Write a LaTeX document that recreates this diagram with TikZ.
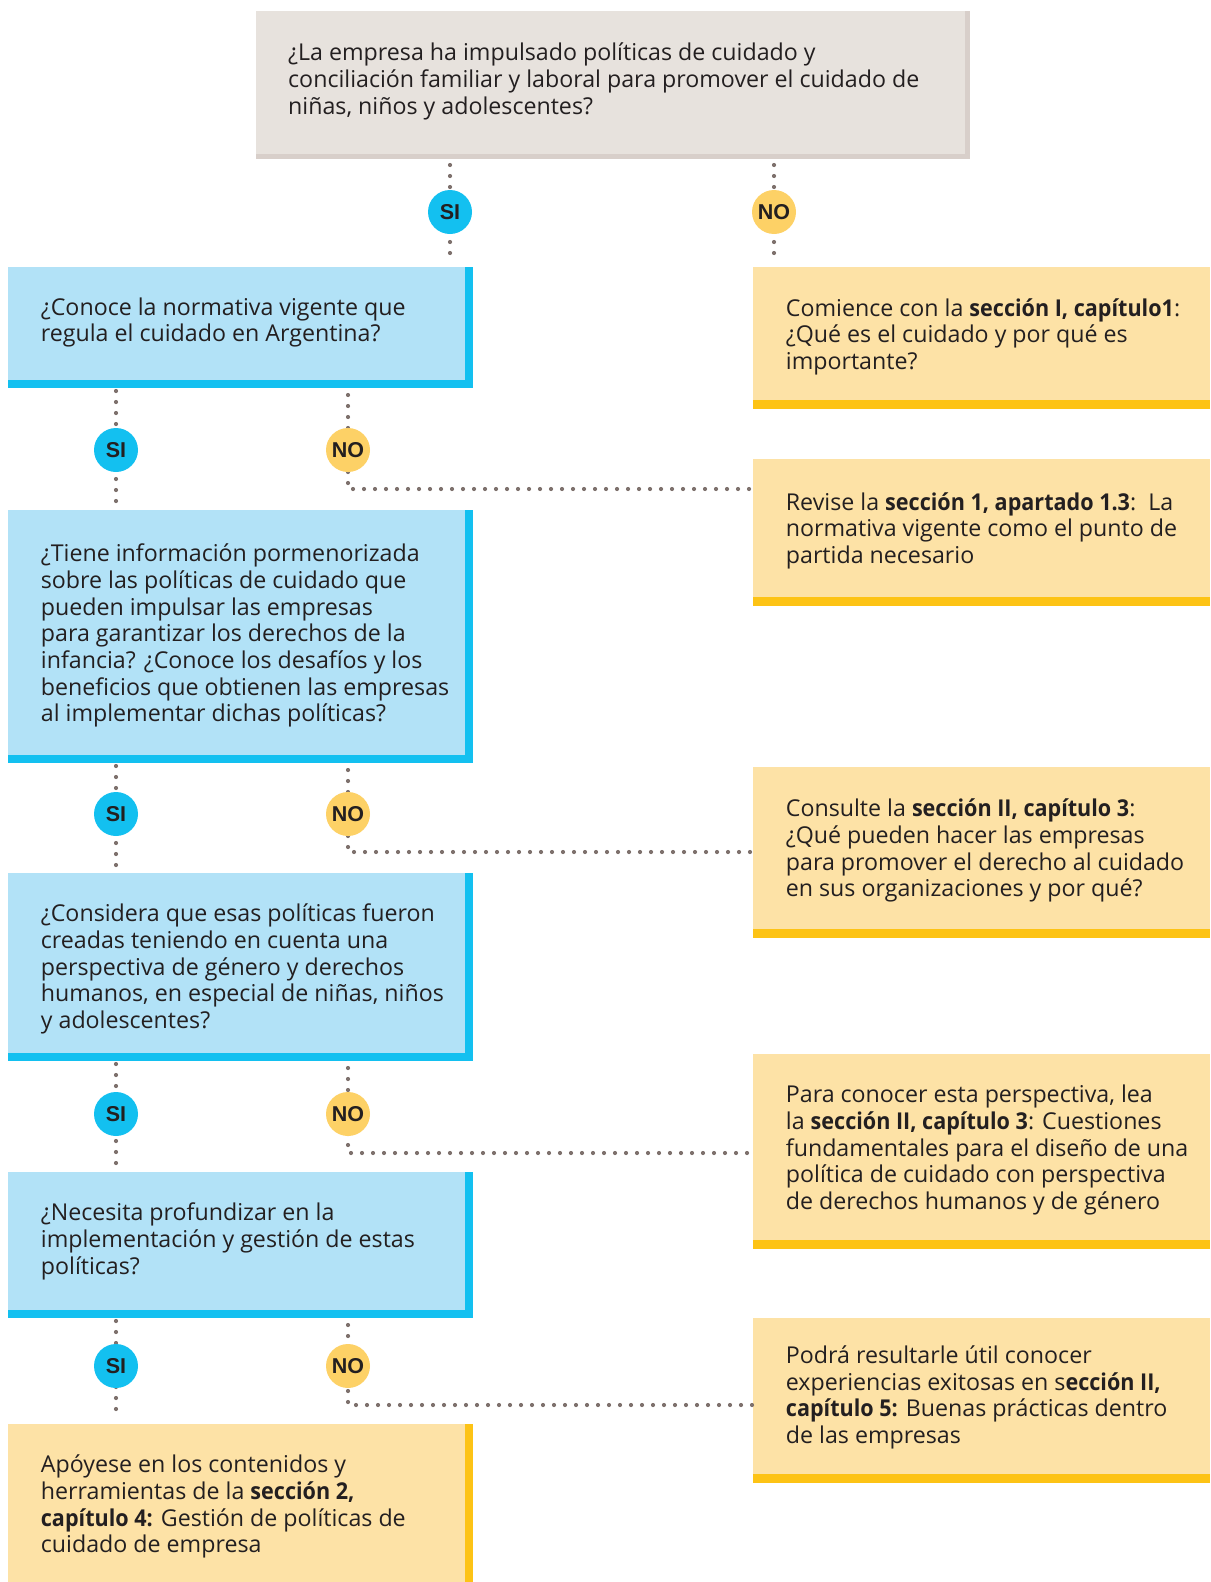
\documentclass[tikz,border=0pt]{standalone}
\usepackage{fontspec}
\setmainfont{Open Sans}[BoldFeatures={FakeStretch=0.93}]
\newfontfamily\lblfont{Liberation Sans}
\usetikzlibrary{calc}
\definecolor{grayF}{HTML}{E7E2DD}
\definecolor{grayS}{HTML}{D8CFCA}
\definecolor{blueF}{HTML}{B2E2F7}
\definecolor{blueB}{HTML}{13C0F0}
\definecolor{yelF}{HTML}{FDE2A6}
\definecolor{yelB}{HTML}{FDC315}
\definecolor{noC}{HTML}{FDD166}
\definecolor{dotC}{HTML}{7E716D}
\definecolor{txtC}{HTML}{231F20}
\begin{document}
\begin{tikzpicture}[x=1pt,y=-1pt,
  boxnode/.style={rectangle, anchor=north west, inner sep=0pt, outer sep=0pt},
  bluebox/.style={boxnode, fill=blueB},
  yelbox/.style={boxnode, fill=yelB},
  graybox/.style={boxnode, fill=grayS},
  txt/.style={anchor=base west, align=left, inner sep=0pt, text=txtC, font=\fontsize{23.2}{26.7}\selectfont},
  answer/.style={circle, minimum size=44pt, inner sep=0pt, text=txtC, font=\lblfont\bfseries\fontsize{21.5}{21.5}\selectfont},
  sinode/.style={answer, fill=blueB},
  nonode/.style={answer, fill=noC},
  dotline/.style={draw=dotC, line width=4.2pt, line cap=round, dash pattern=on 0pt off 11pt}
]
\useasboundingbox (0,0) rectangle (1210,1582);

% ---------- top question ----------
\node[graybox, minimum width=714pt, minimum height=148pt] (top) at (256,11) {};
\fill[grayF] (top.north west) rectangle ([shift={(-5,-5)}]top.south east);
% (text nodes are anchored at the baseline of their last line)
\node[txt] (ttop) at (288,114) {¿La empresa ha impulsado políticas de cuidado y\\conciliación familiar y laboral para promover el cuidado de\\niñas, niños y adolescentes?};

% ---------- blue question boxes ----------
\node[bluebox, minimum width=465pt, minimum height=121pt] (b1) at (8,267) {};
\fill[blueF] (b1.north west) rectangle ([shift={(-8,-8)}]b1.south east);
\node[txt] (tb1) at (40.7,341.7) {¿Conoce la normativa vigente que\\regula el cuidado en Argentina?};

\node[bluebox, minimum width=465pt, minimum height=253pt] (b2) at (8,510) {};
\fill[blueF] (b2.north west) rectangle ([shift={(-8,-8)}]b2.south east);
\node[txt] (tb2) at (40.7,721.9) {¿Tiene información pormenorizada\\sobre las políticas de cuidado que\\pueden impulsar las empresas\\para garantizar los derechos de la\\infancia? ¿Conoce los desafíos y los\\beneficios que obtienen las empresas\\al implementar dichas políticas?};

\node[bluebox, minimum width=465pt, minimum height=188pt] (b3) at (8,873) {};
\fill[blueF] (b3.north west) rectangle ([shift={(-8,-8)}]b3.south east);
\node[txt] (tb3) at (40.7,1028.5) {¿Considera que esas políticas fueron\\creadas teniendo en cuenta una\\perspectiva de género y derechos\\humanos, en especial de niñas, niños\\y adolescentes?};

\node[bluebox, minimum width=465pt, minimum height=146pt] (b4) at (8,1172) {};
\fill[blueF] (b4.north west) rectangle ([shift={(-8,-8)}]b4.south east);
\node[txt] (tb4) at (40.7,1274.1) {¿Necesita profundizar en la\\implementación y gestión de estas\\políticas?};

% ---------- final yellow box ----------
\node[yelbox, minimum width=465pt, minimum height=158pt] (fin) at (8,1424) {};
\fill[yelF] (fin.north west) rectangle ([shift={(-8,0)}]fin.south east);
\node[txt] (tfin) at (40.7,1552.8) {Apóyese en los contenidos y\\herramientas de la \textbf{sección 2,}\\\textbf{capítulo 4:} Gestión de políticas de\\cuidado de empresa};

% ---------- yellow answer boxes ----------
\node[yelbox, minimum width=457pt, minimum height=142pt] (y1) at (753,267) {};
\fill[yelF] (y1.north west) rectangle ([shift={(0,-9)}]y1.south east);
\node[txt] (ty1) at (785.7,369.4) {Comience con la \textbf{sección I, capítulo1}:\\¿Qué es el cuidado y por qué es\\importante?};

\node[yelbox, minimum width=457pt, minimum height=147pt] (y2) at (753,459) {};
\fill[yelF] (y2.north west) rectangle ([shift={(0,-9)}]y2.south east);
\node[txt] (ty2) at (785.7,563.4) {Revise la \textbf{sección 1, apartado 1.3}:\ \ La\\normativa vigente como el punto de\\partida necesario};

\node[yelbox, minimum width=457pt, minimum height=171pt] (y3) at (753,767) {};
\fill[yelF] (y3.north west) rectangle ([shift={(0,-9)}]y3.south east);
\node[txt] (ty3) at (785.7,896.8) {Consulte la \textbf{sección II, capítulo 3}:\\¿Qué pueden hacer las empresas\\para promover el derecho al cuidado\\en sus organizaciones y por qué?};

\node[yelbox, minimum width=457pt, minimum height=195pt] (y4) at (753,1054) {};
\fill[yelF] (y4.north west) rectangle ([shift={(0,-9)}]y4.south east);
\node[txt] (ty4) at (785.7,1209.5) {Para conocer esta perspectiva, lea\\la \textbf{sección II, capítulo 3}: Cuestiones\\fundamentales para el diseño de una\\política de cuidado con perspectiva\\de derechos humanos y de género};

\node[yelbox, minimum width=457pt, minimum height=165pt] (y5) at (753,1318) {};
\fill[yelF] (y5.north west) rectangle ([shift={(0,-9)}]y5.south east);
\node[txt] (ty5) at (785.7,1443.4) {Podrá resultarle útil conocer\\experiencias exitosas en s\textbf{ección II,}\\\textbf{capítulo 5:} Buenas prácticas dentro\\de las empresas};

% ---------- horizontal turn points ----------
\coordinate (h2) at (753,489);
\coordinate (h3) at (753,852);
\coordinate (h4) at (753,1153);
\coordinate (h5) at (753,1405);

% ---------- answer circles positions ----------
\coordinate (s1) at (450,212);
\coordinate (n1) at (774,212);
\coordinate (s2) at (116,450);
\coordinate (n2) at (348,450);
\coordinate (s3) at (116,814);
\coordinate (n3) at (348,814);
\coordinate (s4) at (116,1114);
\coordinate (n4) at (348,1114);
\coordinate (s5) at (116,1366);
\coordinate (n5) at (348,1366);

% ---------- dotted connectors ----------
\draw[dotline] ($(s1|-top.south)+(0,6)$) -- ($(s1|-b1.north)+(0,-4)$);
\draw[dotline] ($(n1|-top.south)+(0,6)$) -- ($(n1|-y1.north)+(0,-4)$);

\draw[dotline] ($(s2|-b1.south)+(0,3)$) -- ($(s2|-b2.north)+(0,-6)$);
\draw[dotline] ($(n2|-b1.south)+(0,7)$) |- (h2);

\draw[dotline] ($(s3|-b2.south)+(0,3)$) -- ($(s3|-b3.north)+(0,-6)$);
\draw[dotline] ($(n3|-b2.south)+(0,7)$) |- (h3);

\draw[dotline] ($(s4|-b3.south)+(0,3)$) -- ($(s4|-b4.north)+(0,-6)$);
\draw[dotline] ($(n4|-b3.south)+(0,7)$) |- (h4);

\draw[dotline] ($(s5|-b4.south)+(0,3)$) -- ($(s5|-fin.north)+(0,-6)$);
\draw[dotline] ($(n5|-b4.south)+(0,7)$) |- (h5);

% ---------- circles ----------
\node[sinode] (si1) at (s1) {SI};
\node[nonode] (no1) at (n1) {NO};
\node[sinode] (si2) at (s2) {SI};
\node[nonode] (no2) at (n2) {NO};
\node[sinode] (si3) at (s3) {SI};
\node[nonode] (no3) at (n3) {NO};
\node[sinode] (si4) at (s4) {SI};
\node[nonode] (no4) at (n4) {NO};
\node[sinode] (si5) at (s5) {SI};
\node[nonode] (no5) at (n5) {NO};
\end{tikzpicture}
\end{document}
